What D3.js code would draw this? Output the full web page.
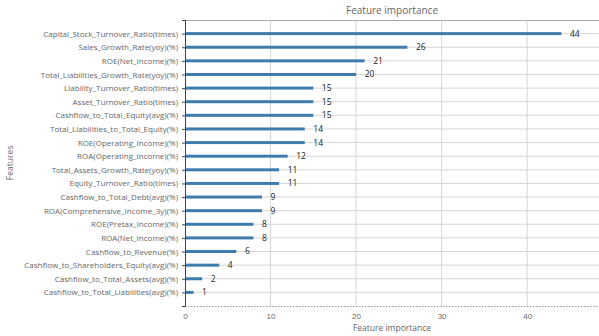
<!DOCTYPE html>
<html>
<head>
<meta charset="utf-8">
<script src="https://cdn.jsdelivr.net/npm/d3@7"></script>
<style>
  html, body { margin: 0; padding: 0; background: #fff; }
  svg { display: block; font-family: "Open Sans", "Noto Sans", sans-serif; }
</style>
</head>
<body>
<svg id="chart" width="599" height="336"></svg>
<script>
// Feature names, listed from the most to the least important
const features = [
  "Capital_Stock_Turnover_Ratio(times)",
  "Sales_Growth_Rate(yoy)(%)",
  "ROE(Net_Income)(%)",
  "Total_Liabilities_Growth_Rate(yoy)(%)",
  "Liability_Turnover_Ratio(times)",
  "Asset_Turnover_Ratio(times)",
  "Cashflow_to_Total_Equity(avg)(%)",
  "Total_Liabilities_to_Total_Equity(%)",
  "ROE(Operating_Income)(%)",
  "ROA(Operating_Income)(%)",
  "Total_Assets_Growth_Rate(yoy)(%)",
  "Equity_Turnover_Ratio(times)",
  "Cashflow_to_Total_Debt(avg)(%)",
  "ROA(Comprehensive_Income_3y)(%)",
  "ROE(Pretax_Income)(%)",
  "ROA(Net_Income)(%)",
  "Cashflow_to_Revenue(%)",
  "Cashflow_to_Shareholders_Equity(avg)(%)",
  "Cashflow_to_Total_Assets(avg)(%)",
  "Cashflow_to_Total_Liabilities(avg)(%)"
];
// Importance score of each feature
const scores = [44, 26, 21, 20, 15, 15, 15, 14, 14, 12, 11, 11, 9, 9, 8, 8, 6, 4, 2, 1];
const xTicks = [0, 10, 20, 30, 40];

const svg = d3.select("#chart");
const margin = { left: 185, right: 0, top: 20, bottom: 30 };
const W = 599, H = 336;
const plotW = W - margin.left - margin.right;
const plotH = H - margin.top - margin.bottom;

const xMax = d3.max(scores) * 1.1;
const x = d3.scaleLinear().domain([0, xMax]).range([margin.left, margin.left + plotW]);
// rows: the least important feature sits at the bottom (index 0)
const n = features.length;
const y = d3.scaleLinear().domain([-1, n]).range([margin.top + plotH, margin.top]);
const rowIndex = i => n - 1 - i;

const grid = "#d6d6d6";
const textCol = "#666";

// vertical grid
svg.append("g").selectAll("line").data(xTicks.filter(t => t > 0)).join("line")
  .attr("x1", d => x(d)).attr("x2", d => x(d))
  .attr("y1", margin.top).attr("y2", margin.top + plotH)
  .attr("stroke", grid).attr("stroke-width", 1);

// horizontal grid through each bar
svg.append("g").selectAll("line").data(features).join("line")
  .attr("x1", margin.left).attr("x2", margin.left + plotW)
  .attr("y1", (d, i) => y(rowIndex(i))).attr("y2", (d, i) => y(rowIndex(i)))
  .attr("stroke", grid).attr("stroke-width", 1);

// frame
svg.append("line").attr("x1", margin.left).attr("x2", W)
  .attr("y1", margin.top + 0.5).attr("y2", margin.top + 0.5)
  .attr("stroke", "#aaa");
svg.append("line").attr("x1", margin.left).attr("x2", W)
  .attr("y1", margin.top + plotH + 0.5).attr("y2", margin.top + plotH + 0.5)
  .attr("stroke", "#999").attr("stroke-dasharray", "1.5,1.5");

// bars
const barH = 3;
svg.append("g").selectAll("rect").data(scores).join("rect")
  .attr("x", x(0))
  .attr("y", (d, i) => y(rowIndex(i)) - barH / 2)
  .attr("width", d => x(d) - x(0))
  .attr("height", barH)
  .attr("fill", "#3e7cad");

// value labels
svg.append("g").selectAll("text").data(scores).join("text")
  .attr("x", d => x(d + 1))
  .attr("y", (d, i) => y(rowIndex(i)))
  .attr("dy", "0.35em")
  .attr("font-size", 8.5)
  .attr("fill", "#222")
  .text(d => d);

// y axis
const yAxis = d3.axisLeft(y)
  .tickValues(d3.range(n))
  .tickFormat(v => features[n - 1 - v])
  .tickSize(3).tickPadding(4);
const gy = svg.append("g").attr("transform", `translate(${margin.left},0)`).call(yAxis);
gy.select(".domain").attr("stroke", "#444");
gy.selectAll(".tick line").attr("stroke", "#444");
gy.selectAll(".tick text").attr("font-size", 8).attr("fill", textCol)
  .attr("font-family", "'Open Sans', sans-serif");

// x axis
const xAxis = d3.axisBottom(x).tickValues(xTicks).tickSize(0).tickPadding(7);
const gx = svg.append("g").attr("transform", `translate(0,${margin.top + plotH})`).call(xAxis);
gx.select(".domain").remove();
gx.selectAll(".tick text").attr("font-size", 8).attr("fill", textCol);

// titles
svg.append("text").attr("x", x(xMax / 2)).attr("y", 14)
  .attr("text-anchor", "middle").attr("font-size", 10).attr("fill", textCol)
  .text("Feature importance");
svg.append("text").attr("x", x(xMax / 2)).attr("y", 331)
  .attr("text-anchor", "middle").attr("font-size", 8.5).attr("fill", textCol)
  .text("Feature importance");
svg.append("text")
  .attr("transform", `translate(13,${y((n - 1) / 2)}) rotate(-90)`)
  .attr("text-anchor", "middle").attr("font-size", 8.5).attr("fill", textCol)
  .text("Features");
</script>
</body>
</html>
